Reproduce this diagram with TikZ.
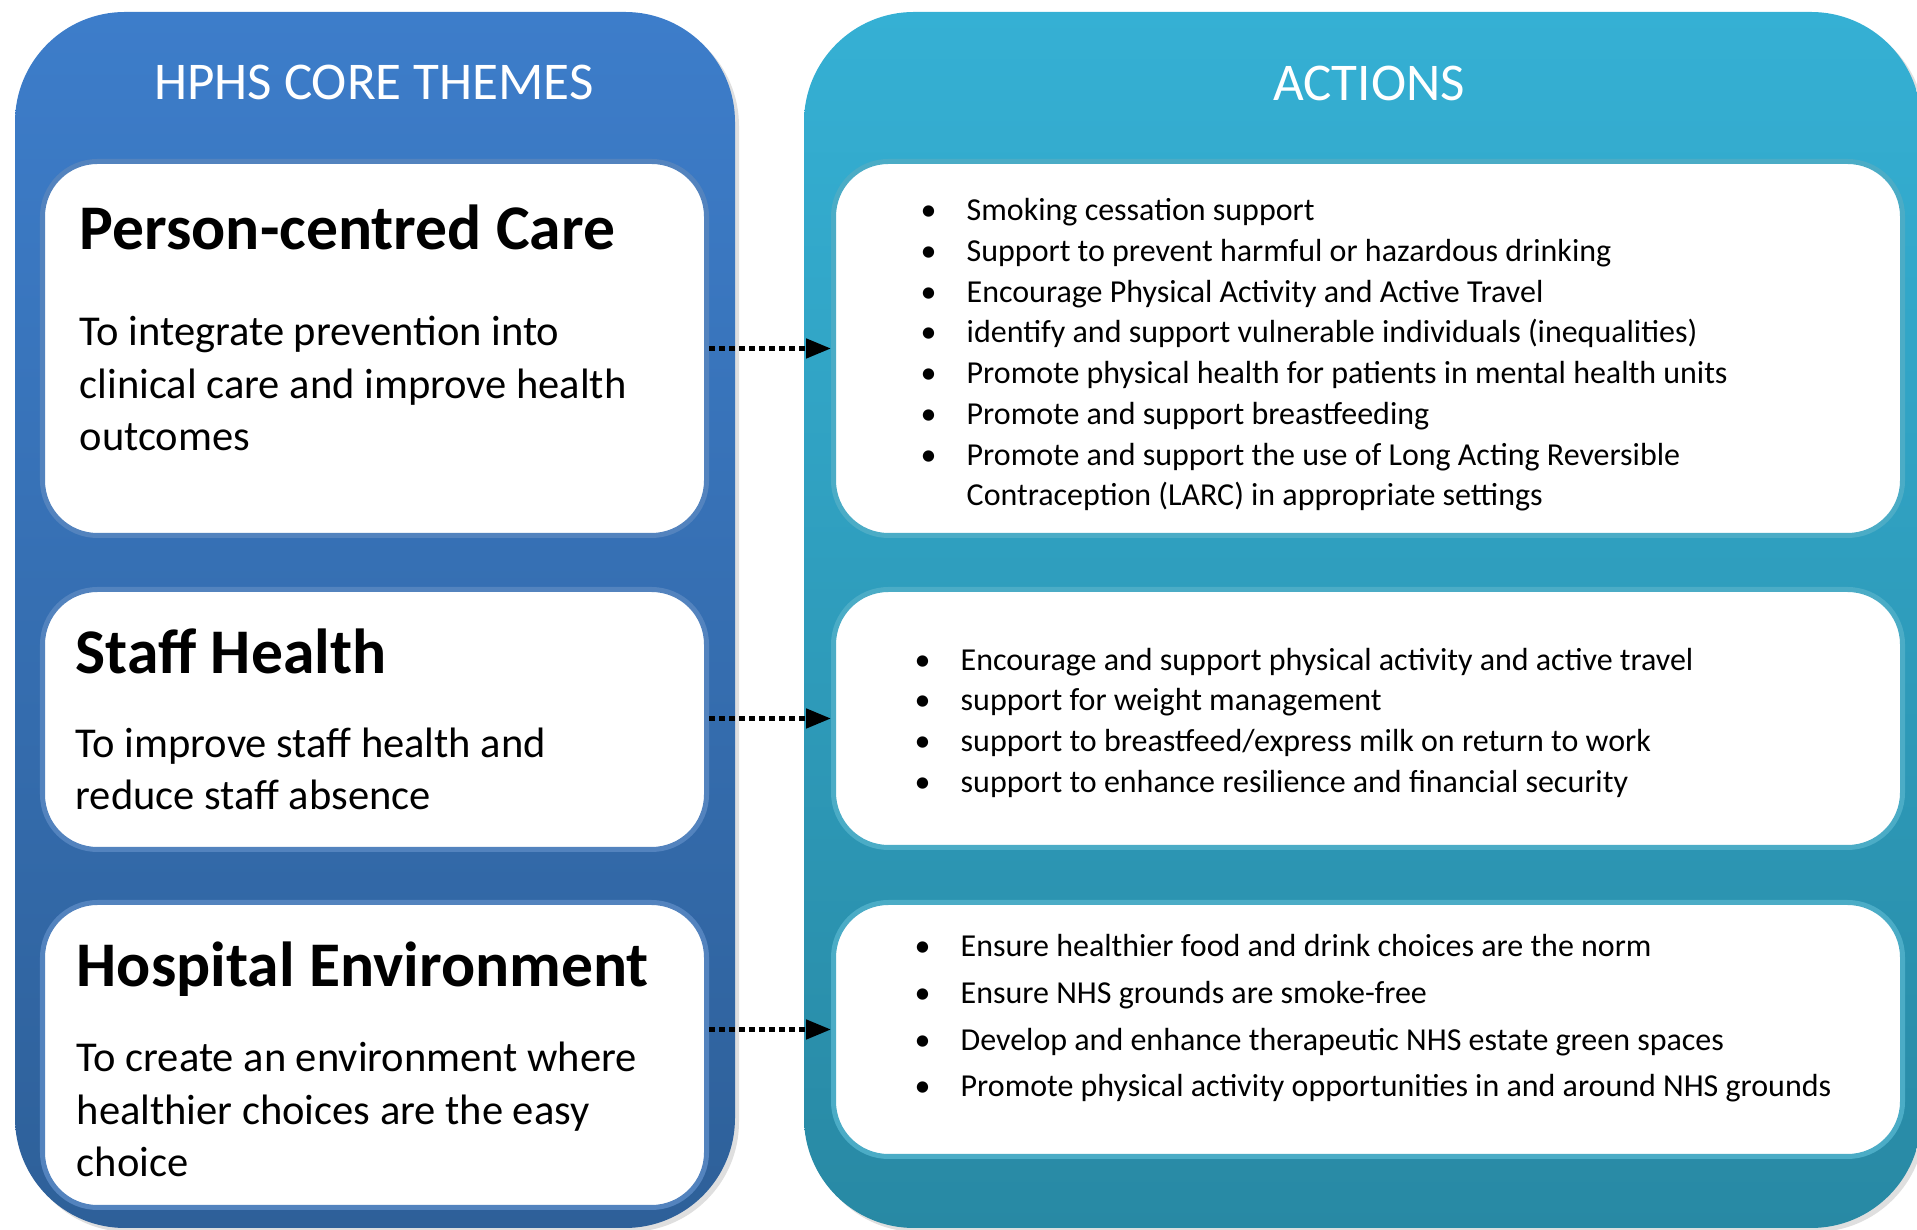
\documentclass[tikz,border=0pt]{standalone}
\usepackage{fontspec}
\setmainfont{Carlito}
\usepackage{tikz}
\usetikzlibrary{positioning, arrows.meta, shadows}

\definecolor{themetop}{RGB}{61,125,202}
\definecolor{themebot}{RGB}{46,96,153}
\definecolor{acttop}{RGB}{53,176,212}
\definecolor{actbot}{RGB}{40,137,164}
\definecolor{themeedge}{RGB}{83,131,190}
\definecolor{actedge}{RGB}{75,172,198}

\newcommand{\bul}{\makebox[0.46cm][l]{\textbullet}}

\begin{document}
\begin{tikzpicture}[
    panel/.style={rectangle, rounded corners=1.1cm, minimum height=12.16cm,
        drop shadow={opacity=0.25, shadow xshift=0.04cm, shadow yshift=-0.04cm}},
    paneltitle/.style={text=white, font=\fontsize{15.1}{18}\selectfont},
    themebox/.style={rectangle, draw=themeedge, fill=white, line width=0.05cm,
        rounded corners=0.55cm, minimum width=6.64cm},
    actbox/.style={themebox, draw=actedge, minimum width=10.69cm},
    heading/.style={inner sep=0pt, font=\fontsize{18.1}{22}\selectfont\bfseries},
    bodytext/.style={inner sep=0pt, align=left, font=\fontsize{12.1}{15}\selectfont},
    items/.style={inner sep=0pt, align=left, font=\fontsize{9.1}{11.6}\selectfont},
    dotarrow/.style={line width=0.047cm, dash pattern=on 0.06cm off 0.04cm,
        -{Triangle[length=0.25cm, width=0.19cm]}}
]
\useasboundingbox (0,0) rectangle (19.17,12.30);

% the two coloured panels
\node[panel, top color=themetop, bottom color=themebot, minimum width=7.20cm] (themes) at (3.75,6.10) {};
\node[panel, top color=acttop, bottom color=actbot, minimum width=11.17cm] (actions) at (13.625,6.10) {};
\node[paneltitle] (themestitle) at (3.74,11.48) {HPHS CORE THEMES};
\node[paneltitle] (actionstitle) at (13.69,11.47) {ACTIONS};

% core themes (text nodes sit on the baseline of their last line)
\node[themebox, minimum height=3.74cm] (pcc) at (3.745,8.815) {};
\node[themebox, minimum height=2.60cm] (staff) at (3.745,5.105) {};
\node[themebox, minimum height=3.05cm] (hosp) at (3.745,1.75) {};

\node[heading, anchor=base west] (pcchead) at (0.79,9.80) {Person-centred Care};
\node[bodytext, anchor=base west] (pccbody) at (0.79,7.79) {To integrate prevention into\\clinical care and improve health\\outcomes};

\node[heading, anchor=base west] (staffhead) at (0.75,5.56) {Staff Health};
\node[bodytext, anchor=base west] (staffbody) at (0.75,4.20) {To improve staff health and\\reduce staff absence};

\node[heading, anchor=base west] (hosphead) at (0.76,2.43) {Hospital Environment};
\node[bodytext, anchor=base west] (hospbody) at (0.76,0.53) {To create an environment where\\healthier choices are the easy\\choice};

% actions
\node[actbox, minimum height=3.74cm] (pccact) at (13.68,8.815) {};
\node[actbox, minimum height=2.58cm] (staffact) at (13.68,5.115) {};
\node[actbox, minimum height=2.54cm] (hospact) at (13.68,2.005) {};

\node[items, anchor=base west] (pccitems) at (9.20,7.24) {%
\bul Smoking cessation support\\
\bul Support to prevent harmful or hazardous drinking\\
\bul Encourage Physical Activity and Active Travel\\
\bul identify and support vulnerable individuals (inequalities)\\
\bul Promote physical health for patients in mental health units\\
\bul Promote and support breastfeeding\\
\bul Promote and support the use of Long Acting Reversible\\
\hspace*{0.46cm}Contraception (LARC) in appropriate settings};

\node[items, anchor=base west] (staffitems) at (9.14,4.375) {%
\bul Encourage and support physical activity and active travel\\
\bul support for weight management\\
\bul support to breastfeed/express milk on return to work\\
\bul support to enhance resilience and financial security};

\node[items, anchor=base west, font=\fontsize{9.1}{13.3}\selectfont] (hospitems) at (9.14,1.33) {%
\bul Ensure healthier food and drink choices are the norm\\
\bul Ensure NHS grounds are smoke-free\\
\bul Develop and enhance therapeutic NHS estate green spaces\\
\bul Promote physical activity opportunities in and around NHS grounds};

% links
\draw [dotarrow] (pcc.east) -- (pccact.west);
\draw [dotarrow] (staff.east |- staffact.west) -- (staffact.west);
\draw [dotarrow] (hosp.east |- hospact.west) -- (hospact.west);

\end{tikzpicture}
\end{document}
